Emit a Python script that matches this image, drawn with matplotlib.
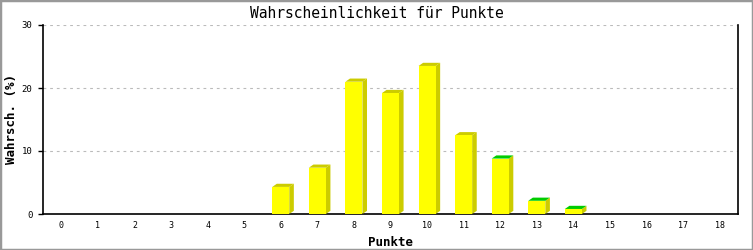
import matplotlib
matplotlib.use("Agg")
import matplotlib.pyplot as plt
from matplotlib.patches import Polygon, Rectangle

# Daten
punkte = list(range(0, 19))
wahrsch = [0, 0, 0, 0, 0, 0, 4.3, 7.35, 21.0, 19.2, 23.5, 12.5, 8.8, 2.1, 0.8, 0, 0, 0, 0]
gruene_deckel = [12, 13, 14]
y_ticks = [0, 10, 20, 30]

FRONT = "#ffff00"
SEITE = "#cccc00"
GRUEN = "#00cc00"

plt.rcParams["font.family"] = ["DejaVu Sans Mono", "DejaVu Sans"]

fig = plt.figure(figsize=(7.53, 2.5), dpi=100)
ax = fig.add_axes([43 / 753, 36 / 250, 695 / 753, 189 / 250])

breite = 0.465   # Frontfläche
dx = 0.125       # Tiefe (x)
dy = 0.5         # Tiefe (y)

for x, v in zip(punkte, wahrsch):
    if v <= 0:
        continue
    xl, xr = x - breite / 2, x + breite / 2
    # Seite
    ax.add_patch(Polygon([(xr, 0), (xr + dx, dy), (xr + dx, v + dy), (xr, v)],
                         closed=True, facecolor=SEITE, edgecolor="none", zorder=3))
    # Deckel
    deckel = GRUEN if x in gruene_deckel else SEITE
    ax.add_patch(Polygon([(xl, v), (xl + dx, v + dy), (xr + dx, v + dy), (xr, v)],
                         closed=True, facecolor=deckel, edgecolor="none", zorder=3))
    # Front
    ax.bar(x, v, width=breite, color=FRONT, edgecolor="none", zorder=4)

ax.set_xlim(-0.5, 18.5)
ax.set_ylim(0, 30)
ax.set_xticks(punkte)
ax.set_xticklabels([str(p) for p in punkte])
ax.set_yticks(y_ticks)
ax.tick_params(axis="x", length=0, pad=5, labelsize=6)
ax.tick_params(axis="y", length=3.6, width=1, pad=4, labelsize=6.5)

for y in y_ticks[1:]:
    ax.axhline(y, color="#bbbbbb", linewidth=0.8, linestyle=(0, (2.5, 3.5)), zorder=1)

ax.spines["top"].set_visible(False)
for s in ("left", "right", "bottom"):
    ax.spines[s].set_linewidth(1.2)
    ax.spines[s].set_color("black")

ax.set_xlabel("Punkte", fontsize=9, fontweight="bold", labelpad=4)
ax.set_ylabel("Wahrsch. (%)", fontsize=9, fontweight="bold", va="center")
ax.yaxis.set_label_coords(-31 / 695, 0.5)
fig.text(0.5, 1 - 13 / 250, "Wahrscheinlichkeit für Punkte", ha="center", va="center",
         fontsize=10.5)

# grauer Rahmen
fig.patches.append(Rectangle((0, 0), 1, 1, transform=fig.transFigure, fill=False,
                             edgecolor="#999999", linewidth=2.5))

fig.savefig("out.png", dpi=100)
